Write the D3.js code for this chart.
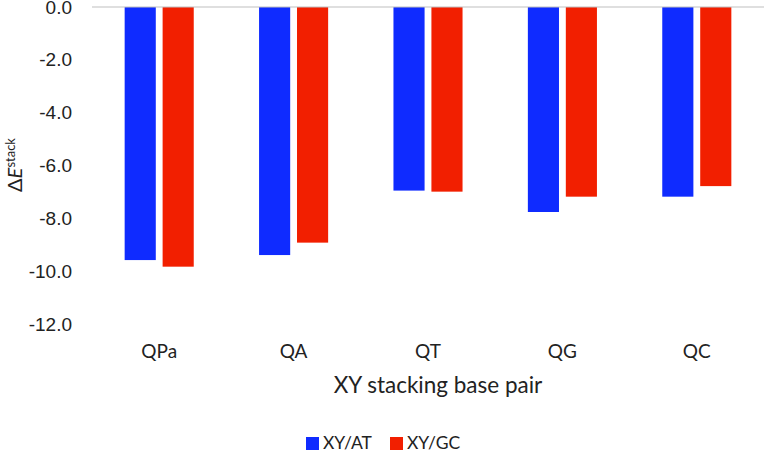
<!DOCTYPE html>
<html>
<head>
<meta charset="utf-8">
<script src="https://cdn.jsdelivr.net/npm/d3@7"></script>
<style>
  html, body { margin: 0; padding: 0; background: #fff; }
  svg { display: block; font-family: Lato, "Open Sans", sans-serif; }
</style>
</head>
<body>
<div id="chart"></div>
<script>
// Data
const categories = ['QPa', 'QA', 'QT', 'QG', 'QC'];
const seriesNames = ['XY/AT', 'XY/GC'];
const atValues = [-9.58, -9.39, -6.95, -7.76, -7.18];
const gcValues = [-9.83, -8.92, -6.99, -7.18, -6.78];
const yTicks = [0, -2, -4, -6, -8, -10, -12];

const COLORS = { 'XY/AT': '#0f2bff', 'XY/GC': '#f21f00' };
const WIDTH = 765;
const HEIGHT = 452;
const MARGIN = { top: 7, right: 1, bottom: 128, left: 92 };

const rows = categories.map((c, i) => ({
  cat: c,
  'XY/AT': atValues[i],
  'XY/GC': gcValues[i]
}));

const innerW = WIDTH - MARGIN.left - MARGIN.right;

const svg = d3.select('#chart')
  .append('svg')
  .attr('width', WIDTH)
  .attr('height', HEIGHT);

const g = svg.append('g').attr('transform', `translate(${MARGIN.left},${MARGIN.top})`);

const x0 = d3.scaleBand().domain(categories).range([0, innerW]).paddingInner(0.486).paddingOuter(0.243);
const x1 = d3.scaleBand().domain(seriesNames).range([0, x0.bandwidth()]).paddingInner(0.18).paddingOuter(0);
const y = d3.scaleLinear().domain([0, -12]).range([0, 317]);

// y tick labels (no axis line, no tick marks); top label sits on the edge like the original
const yAxis = d3.axisLeft(y).tickValues(yTicks).tickSize(0).tickPadding(20)
  .tickFormat((d) => d3.format('.1f')(d).replace('−', '-'));
const yg = g.append('g').call(yAxis);
yg.select('.domain').remove();
yg.selectAll('text').attr('font-size', '19px').attr('fill', '#222');

// bars
for (const s of seriesNames) {
  g.append('g').selectAll('rect')
    .data(rows)
    .join('rect')
    .attr('x', (d) => x0(d.cat) + x1(s))
    .attr('y', y(0))
    .attr('width', x1.bandwidth())
    .attr('height', (d) => y(d[s]) - y(0))
    .attr('fill', COLORS[s]);
}

// zero line
g.append('line')
  .attr('x1', 0).attr('x2', innerW)
  .attr('y1', y(0)).attr('y2', y(0))
  .attr('stroke', '#bfbfbf')
  .attr('stroke-width', 1);

// category labels
g.append('g').selectAll('text')
  .data(categories)
  .join('text')
  .attr('x', (d) => x0(d) + x0.bandwidth() / 2)
  .attr('y', 344)
  .attr('dy', '0.35em')
  .attr('text-anchor', 'middle')
  .attr('font-size', '19px')
  .attr('fill', '#222')
  .text((d) => d);

// x title
g.append('text')
  .attr('x', 346)
  .attr('y', 378)
  .attr('dy', '0.35em')
  .attr('text-anchor', 'middle')
  .attr('font-size', '22.5px')
  .attr('fill', '#222')
  .text('XY stacking base pair');

// y title: ΔE^stack
const yt = svg.append('text')
  .attr('transform', `translate(22,${MARGIN.top + 158}) rotate(-90)`)
  .attr('text-anchor', 'middle')
  .attr('font-size', '20px')
  .attr('fill', '#222');
yt.append('tspan').text('Δ');
yt.append('tspan').attr('font-style', 'italic').text('E');
yt.append('tspan').attr('font-size', '13px').attr('dy', '-7').text('stack');

// legend
const legend = svg.append('g').attr('transform', 'translate(306,443)');
const legendX = [0, 84];
seriesNames.forEach((s, i) => {
  const lg = legend.append('g').attr('transform', `translate(${legendX[i]},0)`);
  lg.append('rect')
    .attr('x', 0).attr('y', -6)
    .attr('width', 13).attr('height', 13)
    .attr('fill', COLORS[s]);
  lg.append('text')
    .attr('x', 17).attr('y', 0)
    .attr('dy', '0.35em')
    .attr('font-size', '17.5px')
    .attr('fill', '#222')
    .text(s);
});
</script>
</body>
</html>
